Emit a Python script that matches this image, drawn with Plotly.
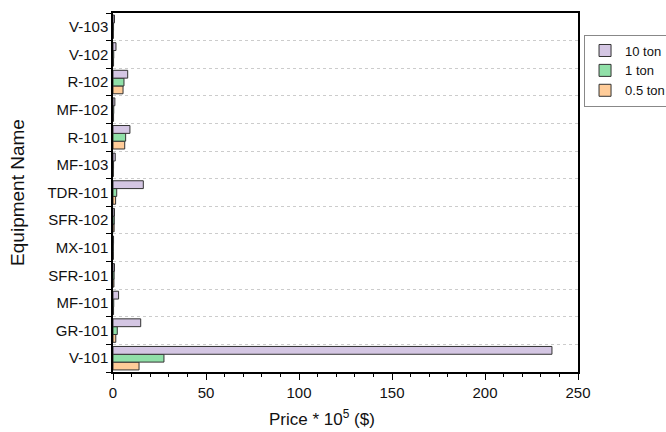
import plotly.graph_objects as go

equipment = ["V-101", "GR-101", "MF-101", "SFR-101", "MX-101", "SFR-102", "TDR-101",
             "MF-103", "R-101", "MF-102", "R-102", "V-102", "V-103"]
ton_10 = [236, 14.9, 3.0, 0.8, 0.3, 0.8, 16.3, 1.2, 9.1, 1.0, 7.9, 1.6, 0.8]
ton_1 = [27.4, 2.3, 0.4, 0.6, 0.2, 0.7, 2.0, 0.3, 6.8, 0.4, 5.9, 0.4, 0.3]
ton_05 = [14.0, 1.5, 0.3, 0.5, 0.2, 0.6, 1.4, 0.2, 6.3, 0.3, 5.4, 0.3, 0.2]
x_ticks = [0, 50, 100, 150, 200, 250]

series = [("0.5 ton", ton_05, "#ffcc99"), ("1 ton", ton_1, "#90e0a8"), ("10 ton", ton_10, "#d4c6e3")]

fig = go.Figure()
for name, vals, col in series:
    fig.add_trace(go.Bar(
        y=equipment, x=vals, name=name, orientation="h",
        marker=dict(color=col, line=dict(color="#333333", width=1)),
    ))

fig.update_layout(
    width=666, height=432,
    margin=dict(l=113, r=88, t=13, b=60, autoexpand=False),
    barmode="group", bargap=0.15, bargroupgap=0,
    plot_bgcolor="white", paper_bgcolor="white",
    font=dict(family="Liberation Sans, Arial, sans-serif", size=14, color="#111111"),
    legend=dict(
        x=1.013, y=0.94, xanchor="left", yanchor="top",
        traceorder="reversed", bordercolor="#888888", borderwidth=1,
        font=dict(size=13), itemwidth=30, tracegroupgap=0,
    ),
    xaxis=dict(
        range=[0, 250], tickvals=x_ticks, ticks="outside", ticklen=6, tickwidth=1,
        tickcolor="black", showline=True, linecolor="black", linewidth=1.5, mirror=True,
        showgrid=False, zeroline=False, automargin=False,
        minor=dict(dtick=10, ticks="outside", ticklen=3, tickcolor="black", showgrid=False),
        tickfont=dict(size=15),
    ),
    yaxis=dict(
        categoryorder="array", categoryarray=equipment, range=[-0.5, 12.5],
        tickson="boundaries", ticks="outside", ticklen=5, tickcolor="black",
        showline=True, linecolor="black", linewidth=1.5, mirror=True,
        showgrid=True, gridcolor="#cccccc", griddash="dot", gridwidth=1,
        tickfont=dict(size=15), automargin=False,
        title=dict(text="Equipment Name", font=dict(size=19), standoff=18),
    ),
)

fig.add_annotation(
    text="Price * 10<sup>5</sup> ($)", xref="paper", yref="paper",
    x=0.449, y=-0.128, xanchor="center", yanchor="middle", showarrow=False,
    font=dict(size=17),
)

fig.write_html("out.html", config={"displayModeBar": False},
               post_script="document.body.style.margin='0';document.body.style.overflow='hidden';")
